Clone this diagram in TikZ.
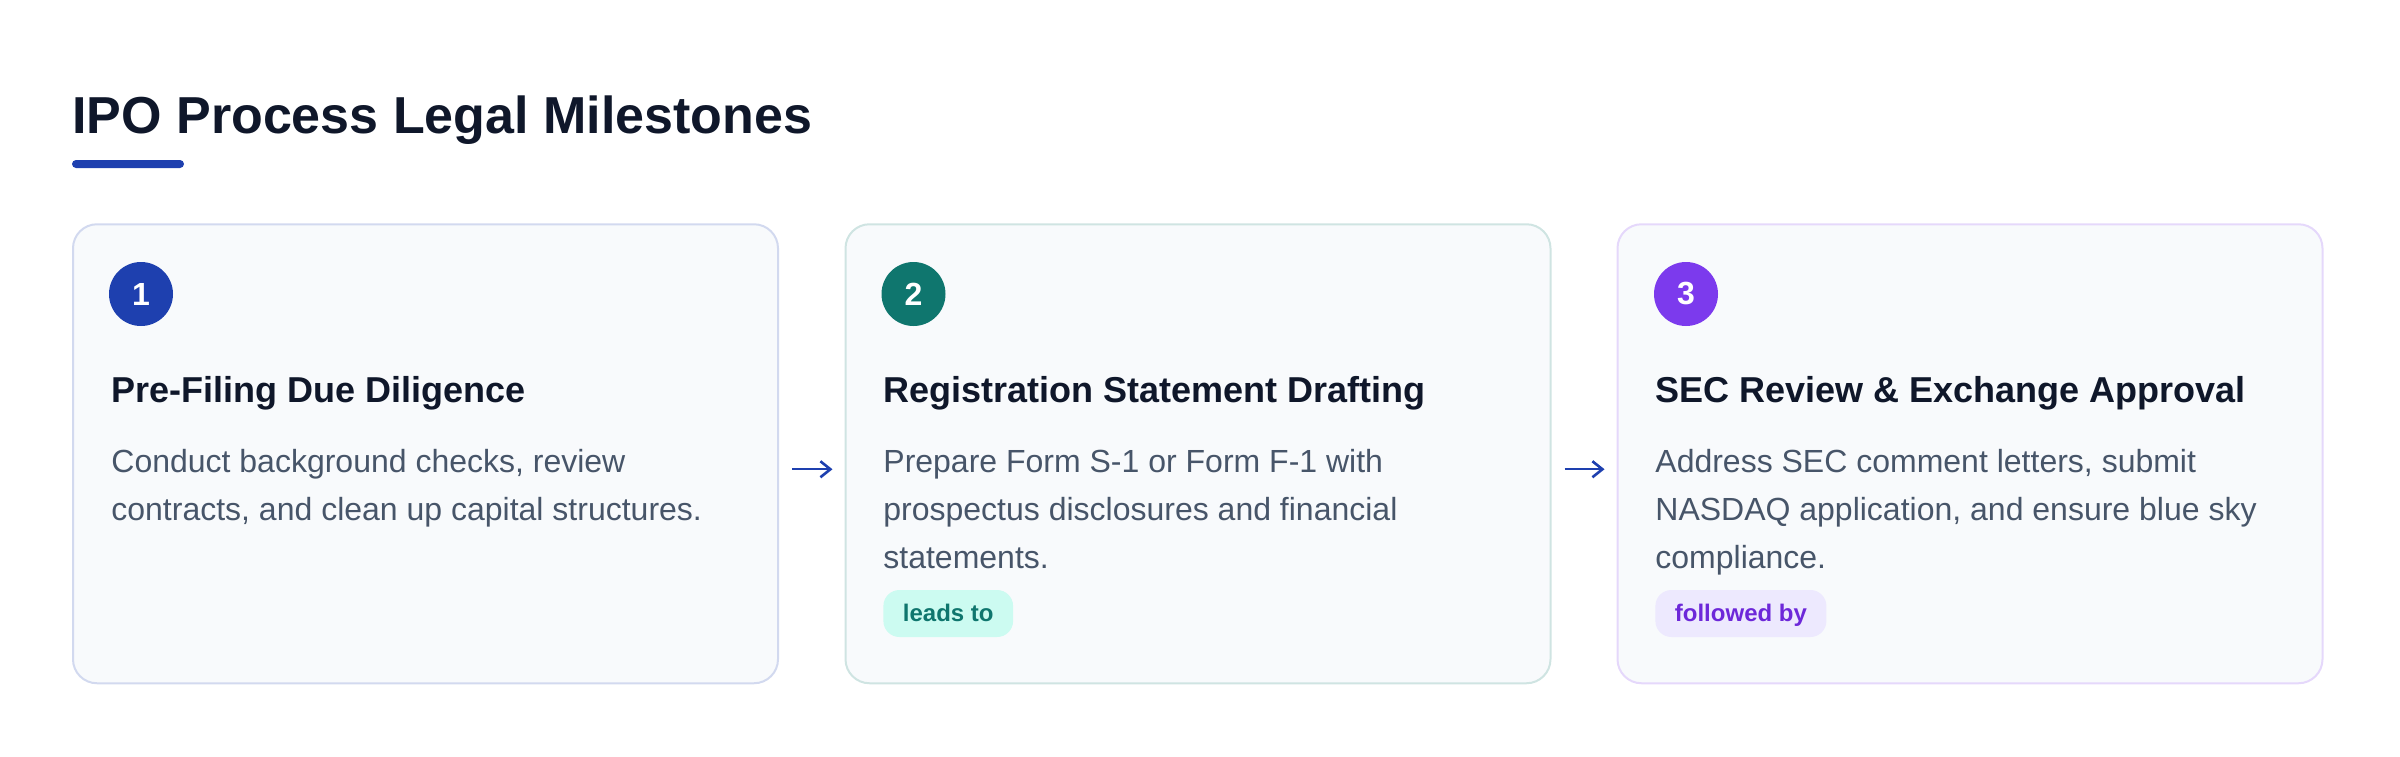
\documentclass[tikz,border=0pt]{standalone}
\usepackage{fontspec}
\setmainfont{Liberation Sans}
\usetikzlibrary{arrows.meta}

\definecolor{ink}{HTML}{0F172A}
\definecolor{slatetext}{HTML}{475569}
\definecolor{cardfill}{HTML}{F8FAFC}
\definecolor{blueone}{HTML}{1E40AF}
\definecolor{tealtwo}{HTML}{0F766E}
\definecolor{violetthree}{HTML}{7C3AED}
\definecolor{violettext}{HTML}{6D28D9}
\definecolor{tealpale}{HTML}{CCFBF1}
\definecolor{violetpale}{HTML}{EDE9FE}

\tikzset{
  card/.style={draw=#1, line width=1pt, fill=cardfill, rounded corners=12pt,
    minimum width=352.5pt, minimum height=229.5pt, inner sep=0pt},
  stepnum/.style={circle, fill=#1, text=white, minimum size=32pt, inner sep=0pt,
    font=\fontsize{16}{16}\selectfont\bfseries},
  cardtitle/.style={anchor=base west, inner sep=0pt, text=ink,
    font=\fontsize{18}{22}\selectfont\bfseries},
  cardtext/.style={anchor=north west, inner sep=0pt, align=left, text=slatetext,
    font=\fontsize{16}{24}\selectfont},
  tag/.style={anchor=west, fill=#1, rounded corners=8pt, minimum height=23.5pt,
    text height=10.7pt, text depth=2.5pt,
    inner xsep=9.75pt, inner ysep=0pt, font=\fontsize{12}{12}\selectfont\bfseries},
  flow/.style={blueone, line width=1pt, -{Straight Barb[length=5pt,width=8pt,line width=1.3pt]},
    shorten <=6.5pt, shorten >=6pt},
}

\begin{document}
\begin{tikzpicture}[x=0.5pt,y=-0.5pt]
  \useasboundingbox (0,0) rectangle (2400,756);

  \node[anchor=base west, inner sep=0pt, text=ink,
    font=\fontsize{26}{31}\selectfont\bfseries] (title) at (72,133)
    {IPO Process Legal Milestones};
  \fill[blueone, rounded corners=2pt] (72,160) rectangle (184,168);

  \node[card=blueone!20] (card1) at (425.5,453.75) {};
  \node[card=tealtwo!20] (card2) at (1198,453.75) {};
  \node[card=violetthree!20] (card3) at (1970,453.75) {};

  \node[stepnum=blueone] (num1) at (141,294) {1};
  \node[stepnum=tealtwo] (num2) at (913.5,294) {2};
  \node[stepnum=violetthree] (num3) at (1686,294) {3};

  \node[cardtitle] (head1) at (111,402) {Pre-Filing Due Diligence};
  \node[cardtitle] (head2) at (883,402) {Registration Statement Drafting};
  \node[cardtitle] (head3) at (1655,402) {SEC Review \& Exchange Approval};

  \node[cardtext] (body1) at (111,438.4)
    {\strut Conduct background checks, review\\contracts, and clean up capital structures.};
  \node[cardtext] (body2) at (883,438.4)
    {\strut Prepare Form S-1 or Form F-1 with\\prospectus disclosures and financial\\statements.};
  \node[cardtext] (body3) at (1655,438.4)
    {\strut Address SEC comment letters, submit\\NASDAQ application, and ensure blue sky\\compliance.};

  \node[tag=tealpale, text=tealtwo] (tag2) at (883,613.5) {leads to};
  \node[tag=violetpale, text=violettext] (tag3) at (1655,613.5) {followed by};

  \draw[flow] ([yshift=-7.75pt]card1.east) -- ([yshift=-7.75pt]card2.west);
  \draw[flow] ([yshift=-7.75pt]card2.east) -- ([yshift=-7.75pt]card3.west);
\end{tikzpicture}
\end{document}
